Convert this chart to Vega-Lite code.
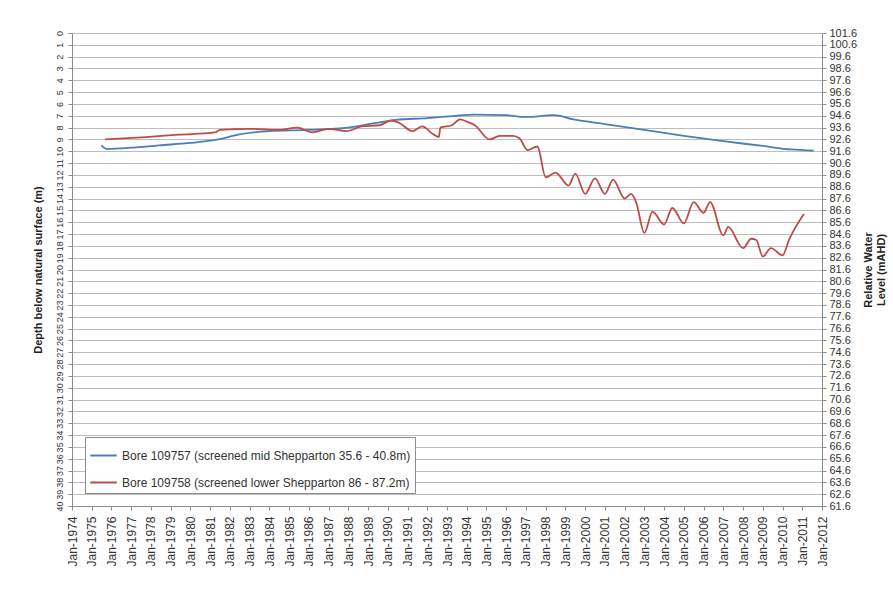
{
  "$schema": "https://vega.github.io/schema/vega-lite/v6.json",
  "width": 750,
  "height": 473,
  "autosize": {"type": "none"},
  "padding": {"left": 72, "top": 33, "right": 71, "bottom": 84},
  "background": "white",
  "config": {
    "view": {"stroke": null},
    "font": "Liberation Sans",
    "axis": {"labelFont": "Liberation Sans", "titleFont": "Liberation Sans", "labelColor": "#333", "titleColor": "#222", "domainColor": "#8c8c8c", "tickColor": "#8c8c8c", "tickSize": 4}
  },
  "layer": [
    {
      "data": {"values": [{"rl": 61.6}, {"rl": 101.6}]},
      "mark": {"type": "point", "opacity": 0},
      "encoding": {
        "y": {
          "field": "rl", "type": "quantitative",
          "scale": {"domain": [61.6, 101.6], "nice": false, "zero": false},
          "axis": {"orient": "right", "title": ["Relative Water", "Level (mAHD)"], "titleAngle": 270, "titleFontSize": 11, "titleFontWeight": "bold", "grid": true, "gridColor": "#bdbdbd", "gridWidth": 1, "format": ".1f", "labelFontSize": 11, "labelOverlap": false, "labelPadding": 3, "titlePadding": 4,
            "values": [61.6,62.6,63.6,64.6,65.6,66.6,67.6,68.6,69.6,70.6,71.6,72.6,73.6,74.6,75.6,76.6,77.6,78.6,79.6,80.6,81.6,82.6,83.6,84.6,85.6,86.6,87.6,88.6,89.6,90.6,91.6,92.6,93.6,94.6,95.6,96.6,97.6,98.6,99.6,100.6,101.6]}
        }
      }
    },
    {
      "data": {
        "values": [
          {"date": "1975/07/01", "depth": 9.5, "series": "Bore 109757 (screened mid Shepparton 35.6 - 40.8m)"},
          {"date": "1975/10/01", "depth": 9.8, "series": "Bore 109757 (screened mid Shepparton 35.6 - 40.8m)"},
          {"date": "1977/01/01", "depth": 9.7, "series": "Bore 109757 (screened mid Shepparton 35.6 - 40.8m)"},
          {"date": "1978/06/01", "depth": 9.5, "series": "Bore 109757 (screened mid Shepparton 35.6 - 40.8m)"},
          {"date": "1980/01/01", "depth": 9.3, "series": "Bore 109757 (screened mid Shepparton 35.6 - 40.8m)"},
          {"date": "1981/06/01", "depth": 9.0, "series": "Bore 109757 (screened mid Shepparton 35.6 - 40.8m)"},
          {"date": "1982/06/01", "depth": 8.6, "series": "Bore 109757 (screened mid Shepparton 35.6 - 40.8m)"},
          {"date": "1984/01/01", "depth": 8.3, "series": "Bore 109757 (screened mid Shepparton 35.6 - 40.8m)"},
          {"date": "1986/01/01", "depth": 8.2, "series": "Bore 109757 (screened mid Shepparton 35.6 - 40.8m)"},
          {"date": "1988/01/01", "depth": 8.0, "series": "Bore 109757 (screened mid Shepparton 35.6 - 40.8m)"},
          {"date": "1989/06/01", "depth": 7.6, "series": "Bore 109757 (screened mid Shepparton 35.6 - 40.8m)"},
          {"date": "1990/06/01", "depth": 7.35, "series": "Bore 109757 (screened mid Shepparton 35.6 - 40.8m)"},
          {"date": "1992/01/01", "depth": 7.2, "series": "Bore 109757 (screened mid Shepparton 35.6 - 40.8m)"},
          {"date": "1993/06/01", "depth": 7.0, "series": "Bore 109757 (screened mid Shepparton 35.6 - 40.8m)"},
          {"date": "1994/06/01", "depth": 6.9, "series": "Bore 109757 (screened mid Shepparton 35.6 - 40.8m)"},
          {"date": "1996/01/01", "depth": 6.95, "series": "Bore 109757 (screened mid Shepparton 35.6 - 40.8m)"},
          {"date": "1997/01/01", "depth": 7.1, "series": "Bore 109757 (screened mid Shepparton 35.6 - 40.8m)"},
          {"date": "1998/06/01", "depth": 6.95, "series": "Bore 109757 (screened mid Shepparton 35.6 - 40.8m)"},
          {"date": "1999/06/01", "depth": 7.3, "series": "Bore 109757 (screened mid Shepparton 35.6 - 40.8m)"},
          {"date": "2001/01/01", "depth": 7.7, "series": "Bore 109757 (screened mid Shepparton 35.6 - 40.8m)"},
          {"date": "2003/01/01", "depth": 8.2, "series": "Bore 109757 (screened mid Shepparton 35.6 - 40.8m)"},
          {"date": "2005/01/01", "depth": 8.7, "series": "Bore 109757 (screened mid Shepparton 35.6 - 40.8m)"},
          {"date": "2007/01/01", "depth": 9.15, "series": "Bore 109757 (screened mid Shepparton 35.6 - 40.8m)"},
          {"date": "2009/01/01", "depth": 9.55, "series": "Bore 109757 (screened mid Shepparton 35.6 - 40.8m)"},
          {"date": "2010/06/01", "depth": 9.85, "series": "Bore 109757 (screened mid Shepparton 35.6 - 40.8m)"},
          {"date": "2011/08/01", "depth": 9.95, "series": "Bore 109757 (screened mid Shepparton 35.6 - 40.8m)"},
          {"date": "1975/09/01", "depth": 9.0, "series": "Bore 109758 (screened lower Shepparton 86 - 87.2m)"},
          {"date": "1977/10/01", "depth": 8.8, "series": "Bore 109758 (screened lower Shepparton 86 - 87.2m)"},
          {"date": "1979/06/01", "depth": 8.6, "series": "Bore 109758 (screened lower Shepparton 86 - 87.2m)"},
          {"date": "1981/04/01", "depth": 8.4, "series": "Bore 109758 (screened lower Shepparton 86 - 87.2m)"},
          {"date": "1981/07/01", "depth": 8.2, "series": "Bore 109758 (screened lower Shepparton 86 - 87.2m)"},
          {"date": "1983/01/01", "depth": 8.1, "series": "Bore 109758 (screened lower Shepparton 86 - 87.2m)"},
          {"date": "1984/06/01", "depth": 8.2, "series": "Bore 109758 (screened lower Shepparton 86 - 87.2m)"},
          {"date": "1985/06/01", "depth": 8.0, "series": "Bore 109758 (screened lower Shepparton 86 - 87.2m)"},
          {"date": "1986/03/01", "depth": 8.4, "series": "Bore 109758 (screened lower Shepparton 86 - 87.2m)"},
          {"date": "1987/01/01", "depth": 8.1, "series": "Bore 109758 (screened lower Shepparton 86 - 87.2m)"},
          {"date": "1987/12/01", "depth": 8.3, "series": "Bore 109758 (screened lower Shepparton 86 - 87.2m)"},
          {"date": "1988/09/01", "depth": 7.9, "series": "Bore 109758 (screened lower Shepparton 86 - 87.2m)"},
          {"date": "1989/08/01", "depth": 7.8, "series": "Bore 109758 (screened lower Shepparton 86 - 87.2m)"},
          {"date": "1990/03/01", "depth": 7.4, "series": "Bore 109758 (screened lower Shepparton 86 - 87.2m)"},
          {"date": "1990/08/01", "depth": 7.6, "series": "Bore 109758 (screened lower Shepparton 86 - 87.2m)"},
          {"date": "1991/04/01", "depth": 8.3, "series": "Bore 109758 (screened lower Shepparton 86 - 87.2m)"},
          {"date": "1991/10/01", "depth": 7.9, "series": "Bore 109758 (screened lower Shepparton 86 - 87.2m)"},
          {"date": "1992/04/01", "depth": 8.5, "series": "Bore 109758 (screened lower Shepparton 86 - 87.2m)"},
          {"date": "1992/08/01", "depth": 8.8, "series": "Bore 109758 (screened lower Shepparton 86 - 87.2m)"},
          {"date": "1992/09/01", "depth": 8.0, "series": "Bore 109758 (screened lower Shepparton 86 - 87.2m)"},
          {"date": "1993/04/01", "depth": 7.8, "series": "Bore 109758 (screened lower Shepparton 86 - 87.2m)"},
          {"date": "1993/09/01", "depth": 7.3, "series": "Bore 109758 (screened lower Shepparton 86 - 87.2m)"},
          {"date": "1994/01/01", "depth": 7.5, "series": "Bore 109758 (screened lower Shepparton 86 - 87.2m)"},
          {"date": "1994/06/01", "depth": 7.8, "series": "Bore 109758 (screened lower Shepparton 86 - 87.2m)"},
          {"date": "1995/03/01", "depth": 9.0, "series": "Bore 109758 (screened lower Shepparton 86 - 87.2m)"},
          {"date": "1995/09/01", "depth": 8.7, "series": "Bore 109758 (screened lower Shepparton 86 - 87.2m)"},
          {"date": "1996/05/01", "depth": 8.7, "series": "Bore 109758 (screened lower Shepparton 86 - 87.2m)"},
          {"date": "1996/09/01", "depth": 8.9, "series": "Bore 109758 (screened lower Shepparton 86 - 87.2m)"},
          {"date": "1997/02/01", "depth": 9.9, "series": "Bore 109758 (screened lower Shepparton 86 - 87.2m)"},
          {"date": "1997/08/01", "depth": 9.6, "series": "Bore 109758 (screened lower Shepparton 86 - 87.2m)"},
          {"date": "1998/01/01", "depth": 12.2, "series": "Bore 109758 (screened lower Shepparton 86 - 87.2m)"},
          {"date": "1998/07/01", "depth": 11.8, "series": "Bore 109758 (screened lower Shepparton 86 - 87.2m)"},
          {"date": "1999/03/01", "depth": 12.9, "series": "Bore 109758 (screened lower Shepparton 86 - 87.2m)"},
          {"date": "1999/07/01", "depth": 11.9, "series": "Bore 109758 (screened lower Shepparton 86 - 87.2m)"},
          {"date": "2000/01/01", "depth": 13.6, "series": "Bore 109758 (screened lower Shepparton 86 - 87.2m)"},
          {"date": "2000/07/01", "depth": 12.3, "series": "Bore 109758 (screened lower Shepparton 86 - 87.2m)"},
          {"date": "2001/01/01", "depth": 13.6, "series": "Bore 109758 (screened lower Shepparton 86 - 87.2m)"},
          {"date": "2001/06/01", "depth": 12.4, "series": "Bore 109758 (screened lower Shepparton 86 - 87.2m)"},
          {"date": "2002/01/01", "depth": 14.0, "series": "Bore 109758 (screened lower Shepparton 86 - 87.2m)"},
          {"date": "2002/05/01", "depth": 13.6, "series": "Bore 109758 (screened lower Shepparton 86 - 87.2m)"},
          {"date": "2002/08/01", "depth": 14.3, "series": "Bore 109758 (screened lower Shepparton 86 - 87.2m)"},
          {"date": "2003/01/01", "depth": 16.9, "series": "Bore 109758 (screened lower Shepparton 86 - 87.2m)"},
          {"date": "2003/06/01", "depth": 15.1, "series": "Bore 109758 (screened lower Shepparton 86 - 87.2m)"},
          {"date": "2004/01/01", "depth": 16.2, "series": "Bore 109758 (screened lower Shepparton 86 - 87.2m)"},
          {"date": "2004/06/01", "depth": 14.8, "series": "Bore 109758 (screened lower Shepparton 86 - 87.2m)"},
          {"date": "2005/01/01", "depth": 16.1, "series": "Bore 109758 (screened lower Shepparton 86 - 87.2m)"},
          {"date": "2005/07/01", "depth": 14.3, "series": "Bore 109758 (screened lower Shepparton 86 - 87.2m)"},
          {"date": "2006/01/01", "depth": 15.2, "series": "Bore 109758 (screened lower Shepparton 86 - 87.2m)"},
          {"date": "2006/05/01", "depth": 14.3, "series": "Bore 109758 (screened lower Shepparton 86 - 87.2m)"},
          {"date": "2007/01/01", "depth": 17.1, "series": "Bore 109758 (screened lower Shepparton 86 - 87.2m)"},
          {"date": "2007/04/01", "depth": 16.4, "series": "Bore 109758 (screened lower Shepparton 86 - 87.2m)"},
          {"date": "2008/01/01", "depth": 18.2, "series": "Bore 109758 (screened lower Shepparton 86 - 87.2m)"},
          {"date": "2008/06/01", "depth": 17.4, "series": "Bore 109758 (screened lower Shepparton 86 - 87.2m)"},
          {"date": "2008/09/01", "depth": 17.5, "series": "Bore 109758 (screened lower Shepparton 86 - 87.2m)"},
          {"date": "2009/01/01", "depth": 18.9, "series": "Bore 109758 (screened lower Shepparton 86 - 87.2m)"},
          {"date": "2009/06/01", "depth": 18.2, "series": "Bore 109758 (screened lower Shepparton 86 - 87.2m)"},
          {"date": "2010/01/01", "depth": 18.8, "series": "Bore 109758 (screened lower Shepparton 86 - 87.2m)"},
          {"date": "2010/05/01", "depth": 17.5, "series": "Bore 109758 (screened lower Shepparton 86 - 87.2m)"},
          {"date": "2010/09/01", "depth": 16.4, "series": "Bore 109758 (screened lower Shepparton 86 - 87.2m)"},
          {"date": "2011/02/01", "depth": 15.3, "series": "Bore 109758 (screened lower Shepparton 86 - 87.2m)"}
        ]
      },
      "mark": {"type": "line", "strokeWidth": 1.8, "interpolate": "monotone"},
      "encoding": {
        "x": {
          "field": "date", "type": "temporal",
          "scale": {"domain": [{"year": 1974, "month": 1, "date": 1}, {"year": 2012, "month": 1, "date": 1}]},
          "axis": {"title": null, "format": "%b-%Y", "tickCount": {"interval": "year", "step": 1}, "labelAngle": 270, "labelFontSize": 12, "labelOverlap": false, "grid": false, "labelPadding": 6}
        },
        "y": {
          "field": "depth", "type": "quantitative",
          "scale": {"domain": [0, 40], "reverse": true, "nice": false},
          "axis": {"title": "Depth below natural surface (m)", "titleFontSize": 11, "titleFontWeight": "bold", "grid": false, "values": [0,1,2,3,4,5,6,7,8,9,10,11,12,13,14,15,16,17,18,19,20,21,22,23,24,25,26,27,28,29,30,31,32,33,34,35,36,37,38,39,40], "labelAngle": 270, "labelFontSize": 9, "labelOverlap": false, "labelPadding": 4, "titlePadding": 12}
        },
        "color": {
          "field": "series", "type": "nominal",
          "scale": {"domain": ["Bore 109757 (screened mid Shepparton 35.6 - 40.8m)", "Bore 109758 (screened lower Shepparton 86 - 87.2m)"], "range": ["#4a7ebb", "#be4b48"]},
          "legend": {"title": null, "orient": "bottom-left", "offset": 13, "symbolType": "stroke", "symbolSize": 700, "symbolStrokeWidth": 2, "labelFontSize": 12, "labelFont": "Liberation Sans", "labelColor": "#333", "rowPadding": 6, "padding": 4, "strokeColor": "#8c8c8c", "fillColor": "white", "labelLimit": 400}
        }
      }
    }
  ],
  "resolve": {"scale": {"y": "independent"}, "axis": {"y": "independent"}}
}
